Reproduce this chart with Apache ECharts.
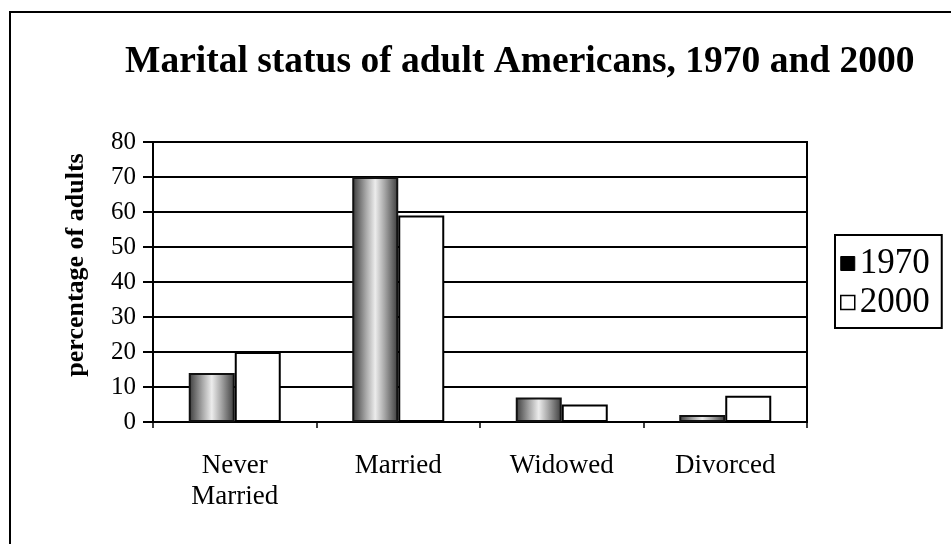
<!DOCTYPE html>
<html>
<head>
<meta charset="utf-8">
<script src="https://cdn.jsdelivr.net/npm/echarts@6/dist/echarts.min.js"></script>
<style>
html, body { margin: 0; padding: 0; background: #fff; }
#chart { width: 951px; height: 544px; }
</style>
</head>
<body>
<div id="chart"></div>
<script>
// marital status chart, 1970 vs 2000
var categories = ["Never\nMarried", "Married", "Widowed", "Divorced"];
var values1970 = [14, 70, 7, 2];
var values2000 = [20, 59, 5, 7.5];
var seriesNames = ["1970", "2000"];

var serif = "'Liberation Serif', 'DejaVu Serif', serif";

var chart = echarts.init(document.getElementById('chart'));

var shade = new echarts.graphic.LinearGradient(0, 0, 1, 0, [
	{ offset: 0, color: '#3a3a3a' },
	{ offset: 0.3, color: '#a8a8a8' },
	{ offset: 0.5, color: '#ececec' },
	{ offset: 0.7, color: '#a8a8a8' },
	{ offset: 1, color: '#3a3a3a' }
]);

var option = {
	backgroundColor: '#fff',
	animation: false,
	title: {
		text: 'Marital status of adult Americans, 1970 and 2000',
		left: 120,
		top: 38,
		textStyle: {
			fontFamily: serif,
			fontSize: 37.5,
			fontWeight: 'bold',
			color: '#000'
		}
	},
	graphic: [{
		type: 'rect',
		shape: { x: 10, y: 12, width: 980, height: 600 },
		style: { fill: 'none', stroke: '#000', lineWidth: 2 },
		silent: true
	}],
	legend: {
		orient: 'vertical',
		left: 835,
		top: 235,
		padding: [11, 12, 8, 5],
		itemGap: 4,
		itemWidth: 14,
		itemHeight: 14,
		borderColor: '#000',
		borderWidth: 2,
		icon: 'rect',
		textStyle: {
			fontFamily: serif,
			fontSize: 35,
			color: '#000'
		},
		data: [
			{ name: seriesNames[0], itemStyle: { color: '#000', borderColor: '#000', borderWidth: 1 } },
			{ name: seriesNames[1], itemStyle: { color: '#fff', borderColor: '#000', borderWidth: 1.5 } }
		]
	},
	grid: {
		left: 153,
		right: 144,
		top: 142,
		bottom: 122,
		show: true,
		borderColor: '#000',
		borderWidth: 2,
		containLabel: false
	},
	xAxis: {
		type: 'category',
		data: categories,
		axisLine: { lineStyle: { color: '#000', width: 2 } },
		axisTick: { show: true, length: 6, lineStyle: { color: '#000', width: 1.5 } },
		axisLabel: {
			fontFamily: serif,
			fontSize: 27,
			color: '#000',
			margin: 28,
			lineHeight: 31
		}
	},
	yAxis: {
		type: 'value',
		min: 0,
		max: 80,
		interval: 10,
		name: 'percentage of adults',
		nameLocation: 'middle',
		nameGap: 64,
		nameTextStyle: {
			fontFamily: serif,
			fontSize: 26,
			fontWeight: 'bold',
			color: '#000',
			padding: [0, 0, 0, 34]
		},
		axisLine: { show: true, lineStyle: { color: '#000', width: 2 } },
		axisTick: { show: true, length: 10, lineStyle: { color: '#000', width: 2 } },
		axisLabel: {
			fontFamily: serif,
			fontSize: 25,
			color: '#000',
			margin: 17
		},
		splitLine: { lineStyle: { color: '#000', width: 2 } }
	},
	series: [{
		name: seriesNames[0],
		type: 'bar',
		barWidth: 46,
		barGap: '0%',
		data: values1970,
		itemStyle: { color: shade, borderColor: '#111', borderWidth: 2 }
	}, {
		name: seriesNames[1],
		type: 'bar',
		barWidth: 46,
		data: values2000,
		itemStyle: { color: '#fff', borderColor: '#000', borderWidth: 2 }
	}]
};
chart.setOption(option);
</script>
</body>
</html>
